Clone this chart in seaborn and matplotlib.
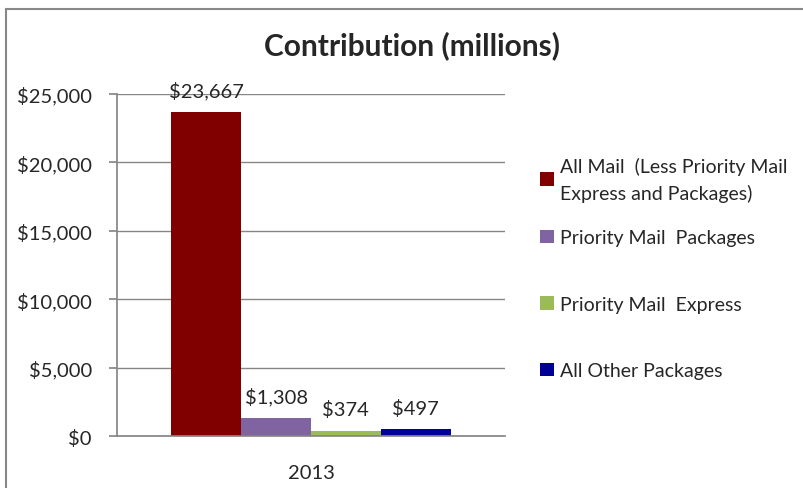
import pandas as pd
import matplotlib.pyplot as plt
import matplotlib.patches as mpatches
import seaborn as sns

# data
years = ["2013"]
categories = ["All Mail  (Less Priority Mail\nExpress and Packages)",
              "Priority Mail  Packages",
              "Priority Mail  Express",
              "All Other Packages"]
values = [23667, 1308, 374, 497]
colors = ["#800000", "#8064A2", "#9BBB59", "#000099"]

df = pd.DataFrame({"Year": years * len(categories),
                   "Category": categories,
                   "Contribution": values})

sns.set_theme(style="white")
plt.rcParams['font.family'] = ['Lato', 'DejaVu Sans']

fig = plt.figure(figsize=(8.04, 4.89), dpi=100)
ax = fig.add_axes([0.1455, 0.1063, 0.4826, 0.6994])

sns.barplot(data=df, x="Year", y="Contribution", hue="Category",
            palette=colors, width=0.72, saturation=1, linewidth=0, ax=ax)

ax.set_xlim(-0.5, 0.5)
ax.set_ylim(0, 25000)
ax.set_yticks(range(0, 25001, 5000))
ax.set_yticklabels([f"${v:,}" for v in range(0, 25001, 5000)], fontsize=14.5)
ax.yaxis.grid(True, color="#868686", linewidth=1)
ax.set_axisbelow(True)
ax.set_xlabel("")
ax.set_ylabel("")
for s in ["top", "right"]:
    ax.spines[s].set_visible(False)
ax.spines["left"].set_color("#868686")
ax.spines["bottom"].set_color("#868686")
ax.tick_params(axis="y", left=True, length=6, color="#868686", pad=12)
ax.tick_params(axis="x", bottom=False, pad=14, labelsize=14.5)

for c in ax.containers:
    ax.bar_label(c, labels=[f"${v:,.0f}" for v in c.datavalues],
                 padding=9, fontsize=14.5)

fig.suptitle("Contribution (millions)", x=0.512, y=0.936, fontsize=21.5,
             fontweight="bold")

# legend: first (two-line) entry separately, then the rest evenly spaced
handles, labels = ax.get_legend_handles_labels()
ax.get_legend().remove()
leg_kw = dict(loc="upper left", frameon=False, fontsize=14, borderpad=0,
              borderaxespad=0, handlelength=0.7, handleheight=0.7,
              handletextpad=0.3)
leg1 = fig.legend(handles[:1], labels[:1], bbox_to_anchor=(0.672, 0.678), **leg_kw)
for t in leg1.get_texts():
    t.set_linespacing(1.6)
fig.legend(handles[1:], labels[1:], bbox_to_anchor=(0.672, 0.529),
           labelspacing=2.55, **leg_kw)

# chart border
fig.patches.append(mpatches.Rectangle((6 / 804, -0.1), 1.0, 1.0 - 10 / 489 + 0.1,
                                      transform=fig.transFigure, fill=False,
                                      edgecolor="#888888", linewidth=1.5))

plt.savefig("out.png", dpi=100)
